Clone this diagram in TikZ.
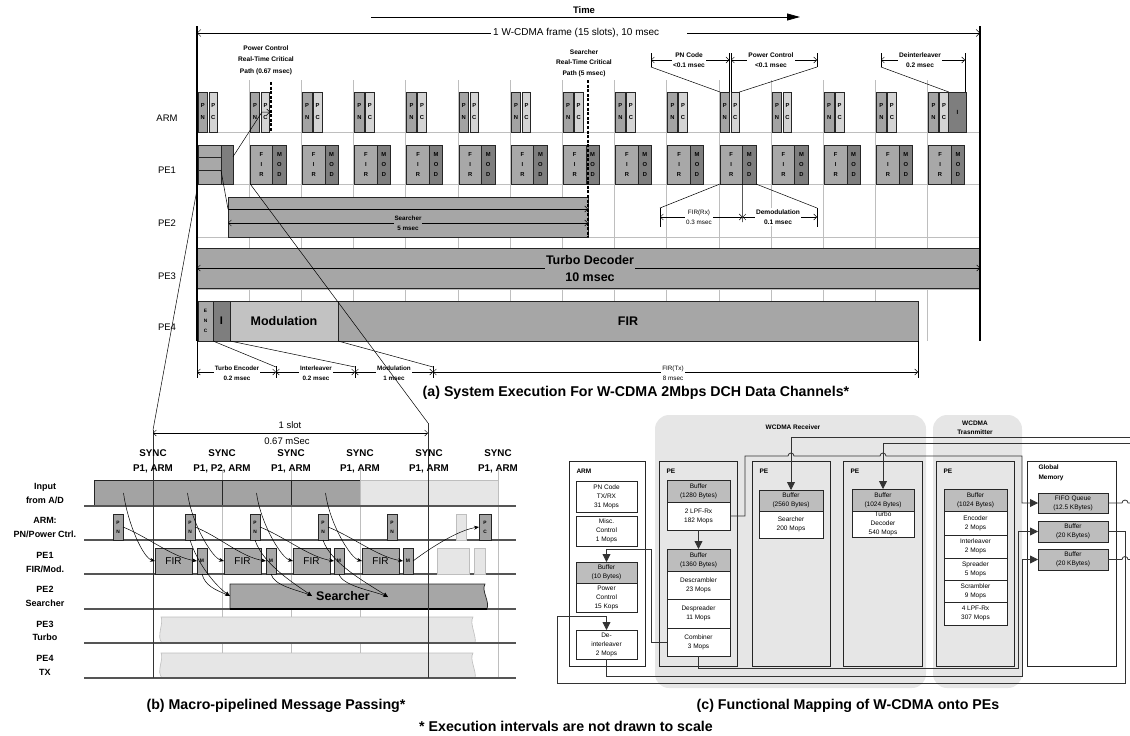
\documentclass[tikz,border=0pt]{standalone}
\usepackage{fontspec}
\setmainfont{Liberation Sans}
\usetikzlibrary{arrows.meta,calc}
\definecolor{gPN}{HTML}{A3A3A3}
\definecolor{gPC}{HTML}{D4D4D4}
\definecolor{gFIR}{HTML}{A8A8A8}
\definecolor{gMOD}{HTML}{7E7E7E}
\definecolor{gGrid}{HTML}{BEBEBE}
\definecolor{gBar}{HTML}{A6A6A6}
\definecolor{gModu}{HTML}{C2C2C2}
\definecolor{gLight}{HTML}{E6E6E6}
\definecolor{gReg}{HTML}{E6E6E6}
\definecolor{gBuf}{HTML}{BDBDBD}
\definecolor{gRow}{HTML}{555555}
\newcommand\fsz[2]{\fontsize{#1}{#2}\selectfont}
\begin{document}
\begin{tikzpicture}[x=1pt,y=-1pt,
  bx/.style={draw=black!85,line width=0.7pt,inner sep=0pt,outer sep=0pt,anchor=north west},
  lt/.style={font=\bfseries\fsz{5.8}{12},align=center},
  lf/.style={font=\bfseries\fsz{5.8}{10},align=center},
  grd/.style={draw=gGrid,line width=0.8pt},
  barb/.style={line width=0.5pt,{Straight Barb[length=3pt,width=6pt]}-{Straight Barb[length=3pt,width=6pt]}},
  barbR/.style={line width=0.5pt,-{Straight Barb[length=3pt,width=6pt]}},
  ann/.style={font=\bfseries\fsz{6.6}{10.5},align=center},
  dl/.style={fill=white,inner sep=1pt,align=center},
  tk/.style={line width=0.5pt},
  rl/.style={font=\bfseries\fsz{9}{13.5},align=center},
  sy/.style={font=\bfseries\fsz{9.8}{15},align=center},
  ba/.style={line width=0.5pt,-{Stealth[length=5pt,width=4pt]}},
  rowl/.style={draw=gRow,line width=1.1pt},
  cb/.style={bx,fill=white,font=\fsz{6.5}{9},align=center,line width=0.8pt},
  cbuf/.style={cb,fill=gBuf},
  cn/.style={draw=black!80,line width=0.8pt},
  tri/.style={-{Triangle[length=8pt,width=8pt]}},
  capt/.style={font=\bfseries\fsz{14.2}{16}}
]
\useasboundingbox (0,0) rectangle (1130,736);
%================ (a) =================
\node[font=\bfseries\fsz{9.5}{11}] (timeL) at (584,10) {Time};
\coordinate (t0) at (371,17); \coordinate (t1) at (800,17);
\draw[line width=0.8pt,-{Triangle[length=13pt,width=7pt]}] (t0) -- (t1);
% grid
\foreach \i in {1,...,14}{\draw[grd] ({197+52.2*\i},80) -- ({197+52.2*\i},341);}
\foreach \y in {132,184,237,289}{\draw[grd] (197,\y) -- (980,\y);}
% row labels
\foreach \nm/\y in {ARM/118,PE1/170,PE2/223,PE3/276,PE4/327}{\node[font=\fsz{9.5}{11}] (rl\nm) at (167,\y) {\nm};}
% ARM boxes
\foreach \i in {0,...,14}{
  \pgfmathsetmacro\s{197+52.2*\i}
  \node[bx,fill=gPN,minimum width=9.5pt,minimum height=40pt,lt] (pn\i) at (\s+1,92) {P\\N};
  \node[bx,fill=gPC,minimum width=8.5pt,minimum height=40pt,lt] (pc\i) at (\s+12,92) {P\\C};
}
\node[bx,fill=gMOD,minimum width=17.2pt,minimum height=40pt,font=\bfseries\fsz{6}{8}] (iA) at (948.8,92) {I};
% PE1 boxes
\foreach \i in {1,...,14}{
  \pgfmathsetmacro\s{197+52.2*\i}
  \node[bx,fill=gFIR,minimum width=22.5pt,minimum height=39pt,lf] (fir\i) at (\s+1,145) {F\\I\\R};
  \node[bx,fill=gMOD,minimum width=13.5pt,minimum height=39pt,lf] (mod\i) at (\s+23.5,145) {M\\O\\D};
}
\node[bx,fill=gFIR,minimum width=23pt,minimum height=12.5pt] (p0a) at (198,145) {};
\node[bx,fill=gFIR,minimum width=23pt,minimum height=13pt] (p0b) at (198,157.5) {};
\node[bx,fill=gFIR,minimum width=23pt,minimum height=13.5pt] (p0c) at (198,170.5) {};
\node[bx,fill=gMOD,minimum width=12pt,minimum height=39pt] (d0) at (221,145) {};
% PE2 searcher
\node[bx,fill=gBar,minimum width=360pt,minimum height=40pt] (srch) at (228,197) {};
\draw[barbR] (228,209) -- (588,209);
\draw[barb] (228,223) -- (588,223);
\node[fill=gBar,inner sep=1pt,font=\bfseries\fsz{6.3}{10},align=center] (srchL) at (408,223) {Searcher\\5 msec};
% PE3 turbo
\node[bx,fill=gBar,minimum width=783pt,minimum height=40pt] (turbo) at (197,248) {};
\draw[barb] (197,268) -- (980,268);
\node[fill=gBar,inner sep=1pt,font=\bfseries\fsz{12.5}{17},align=center] (turboL) at (590,268.5) {Turbo Decoder\\10 msec};
% PE4
\node[bx,fill=gFIR,minimum width=15pt,minimum height=40pt,font=\bfseries\fsz{4.8}{10},align=center] (enc) at (198,301) {E\\N\\C};
\node[bx,fill=gMOD,minimum width=17pt,minimum height=40pt,font=\bfseries\fsz{11}{12}] (iB) at (213,301) {I};
\node[bx,fill=gModu,minimum width=108pt,minimum height=40pt,font=\bfseries\fsz{12.5}{14}] (modu) at (230,301) {Modulation};
\node[bx,fill=gBar,minimum width=580pt,minimum height=40pt,font=\bfseries\fsz{12.5}{14}] (firT) at (338,301) {FIR};
% frame
\draw[line width=1.6pt] (197,26) -- (197,341);
\draw[line width=1.6pt] (980,26) -- (980,341);
\draw[tk] (197,341) -- (197,378);
\draw[line width=0.5pt,{Straight Barb[length=3.5pt,width=7pt]}-] (197,33) -- (491,33);
\draw[line width=0.5pt,-{Straight Barb[length=3.5pt,width=7pt]}] (687,33) -- (980,33);
\node[anchor=west,inner sep=1pt,font=\fsz{10}{12}] (frameL) at (492,33) {1 W-CDMA frame (15 slots), 10 msec};
% critical paths
\node[ann,font=\bfseries\fsz{6.6}{11.5}] (pcA) at (266,60) {Power Control\\Real-Time Critical\\Path (0.67 msec)};
\node[ann] (srA) at (584,63) {Searcher\\Real-Time Critical\\Path (5 msec)};
\draw[line width=1.4pt,dash pattern=on 3pt off 1.6pt] (271,82) -- (271,132);
\draw[line width=1.4pt,dash pattern=on 3pt off 1.6pt] (588,80) -- (588,237);
\draw[barbR] ($(d0.north east)!0.3!(d0.south east)$) -- (262,112) -- (270,112);
\draw[tk] (p0b.south east) -- (228,209);
% top dimensions
\draw[barb] (651,60) -- (729.3,60);
\draw[barb] (731,60) -- (817,60);
\draw[barb] (881,60) -- (965,60);
\draw[tk] (651,53) -- (651,67);
\draw[tk] (817,53) -- (817,67);
\draw[tk] (881,53) -- (881,67);
\draw[tk] (729.3,53) -- (729.3,92);
\draw[tk] (731,53) -- (731,92);
\draw[tk] (965,53) -- (965,92);
\draw[tk] (651,67) -- (pn10.north west);
\draw[tk] (817,67) -- (pc10.north east);
\draw[tk] (881,67) -- (iA.north west);
\node[dl,ann] (pnL) at (689,60) {PN Code\\<0.1 msec};
\node[dl,ann] (pcL) at (771,60) {Power Control\\<0.1 msec};
\node[dl,ann] (diL) at (920,60) {Deinterleaver\\0.2 msec};
% FIR(Rx) dims
\draw[barb] (660,217) -- (742.5,217);
\draw[barb] (742.5,217) -- (817,217);
\draw[tk] (660,208) -- (660,227);
\draw[tk] (817,208) -- (817,227);
\draw[tk] (fir10.south east) -- (742.5,222);
\draw[tk] (660,208) -- (fir10.south west);
\draw[tk] (817,208) -- (mod10.south east);
\node[dl,font=\fsz{6.3}{10.5}] (firRx) at (699,217) {FIR(Rx)\\0.3 msec};
\node[dl,ann] (demL) at (778,217) {Demodulation\\0.1 msec};
% bottom dims
\draw[barb] (197,372) -- (276,372);
\draw[barb] (276,372) -- (355,372);
\draw[barb] (355,372) -- (433,372);
\draw[barb] (433,372) -- (918,372);
\foreach \x in {276,355,433}{\draw[tk] (\x,366) -- (\x,378);}
\draw[tk] (enc.south east) -- (276,367);
\draw[tk] (iB.south east) -- (355,367);
\draw[tk] (modu.south east) -- (433,367);
\draw[tk] (firT.south east) -- (918,378);
\node[dl,ann,font=\bfseries\fsz{6.3}{10}] (teL) at (237,373) {Turbo Encoder\\0.2 msec};
\node[dl,ann,font=\bfseries\fsz{6.3}{10}] (ilL) at (316,373) {Interleaver\\0.2 msec};
\node[dl,ann,font=\bfseries\fsz{6.3}{10}] (moL) at (394,373) {Modulation\\1 msec};
\node[dl,font=\fsz{6.3}{10}] (ftL) at (673,373) {FIR(Tx)\\8 msec};
\node[capt] (capA) at (636,393) {(a) System Execution For W-CDMA 2Mbps DCH Data Channels*};
%================ (b) =================
\foreach \x in {222,291,360,498}{\draw[grd] (\x,470) -- (\x,678);}
\node[bx,fill=gPN,minimum width=59pt,minimum height=26pt] (inp0) at (94,480) {};
\node[bx,fill=gPN,minimum width=69pt,minimum height=26pt] (inp1) at (153,480) {};
\node[bx,fill=gPN,minimum width=69pt,minimum height=26pt] (inp2) at (222,480) {};
\node[bx,fill=gPN,minimum width=69pt,minimum height=26pt] (inp3) at (291,480) {};
\node[bx,fill=gLight,draw=gGrid,minimum width=138pt,minimum height=26pt] (inpL) at (360,480) {};
\foreach \y in {506,540,574,609,643,678}{\draw[rowl] (84,\y) -- (516,\y);}
\foreach \k/\x in {0/113,1/185,2/250,3/318,4/387}{
  \node[bx,fill=gPN,minimum width=10pt,minimum height=26pt,font=\bfseries\fsz{4.8}{9},align=center] (pnb\k) at (\x,514) {P\\N};}
\node[bx,fill=gLight,draw=gGrid,minimum width=10pt,minimum height=26pt] (pnbL) at (456,514) {};
\node[bx,fill=gPN,minimum width=12pt,minimum height=26pt,font=\bfseries\fsz{4.8}{9},align=center] (pcb) at (479,514) {P\\C};
\foreach \k/\x/\m in {0/155/197,1/224/266,2/293/334,3/362/403}{
  \node[bx,fill=gFIR,minimum width=37pt,minimum height=26pt,font=\fsz{10}{12}] (firb\k) at (\x,548) {FIR};
  \node[bx,fill=gFIR,minimum width=10pt,minimum height=26pt,font=\bfseries\fsz{5}{6}] (mb\k) at (\m,548) {M};}
\node[bx,fill=gLight,draw=gGrid,minimum width=32pt,minimum height=26pt] (firbL) at (437,548) {};
\node[bx,fill=gLight,draw=gGrid,minimum width=11pt,minimum height=26pt] (mbL) at (474,548) {};
\path[draw=black!85,fill=gBar,line width=0.7pt] (230,584) -- (485,584) .. controls (481,591) and (490,601) .. (487,609) -- (230,609) -- cycle;
\draw[line width=1.6pt] (230,609) -- (487,609);
\node[font=\bfseries\fsz{12.5}{14}] (srchB) at (343,596.5) {Searcher};
\path[draw=gGrid,fill=gLight,line width=0.6pt] (161,617) -- (473,617) .. controls (469,623) and (477,637) .. (475,643) -- (162,643) .. controls (156,637) and (164,623) .. (161,617) -- cycle;
\path[draw=gGrid,fill=gLight,line width=0.6pt] (161,653) -- (473,653) .. controls (469,659) and (477,672) .. (475,678) -- (162,678) .. controls (156,672) and (164,659) .. (161,653) -- cycle;
\draw[rowl] (84,643) -- (516,643);
\draw[rowl] (84,678) -- (516,678);
\draw[line width=1pt,draw=black!80] (153,430) -- (153,678);
\draw[line width=1pt,draw=black!80] (428,423) -- (428,678);
\coordinate (bs0) at (153,430); \coordinate (bs1) at (428,423);
\draw[barb] (153,433) -- (428,433);
\node[font=\fsz{9.5}{11}] (slotL) at (290,425) {1 slot};
\node[font=\fsz{9.5}{11}] (slotT) at (287,441) {0.67 mSec};
\foreach \x/\t in {153/{P1, ARM},222/{P1, P2, ARM},291/{P1, ARM},360/{P1, ARM},429/{P1, ARM},498/{P1, ARM}}{
  \node[sy] (sync\x) at (\x,461.5) {SYNC\\\t};}
\node[rl] (lInp) at (45,493.5) {Input\\from A/D};
\node[rl] (lArm) at (45,527.5) {ARM:\\PN/Power Ctrl.};
\node[rl] (lPe1) at (45,562.5) {PE1\\FIR/Mod.};
\node[rl] (lPe2) at (45,596.5) {PE2\\Searcher};
\node[rl] (lPe3) at (45,631) {PE3\\Turbo};
\node[rl] (lPe4) at (45,665.5) {PE4\\TX};
% arrows
\foreach \k in {0,1,2,3}{
  \draw[ba] (inp\k.center) .. controls +(4,30) and +(-12,-3) .. (firb\k.west);
  \draw[ba] (pnb\k.east) .. controls +(25,10) and +(-25,-4) .. (mb\k.west);}
\coordinate (T0) at (230,596); \coordinate (T1) at (312,596); \coordinate (T2) at (388,597);
\draw[ba] (mb0.south) .. controls +(3,12) and +(-14,-6) .. (T0);
\draw[ba] (pnb1.south) .. controls +(8,25) and +(-14,-10) .. (T0);
\draw[ba] (mb1.south) .. controls +(3,12) and +(-14,-6) .. (T1);
\draw[ba] (pnb2.south) .. controls +(8,25) and +(-14,-10) .. (T1);
\draw[ba] (mb2.south) .. controls +(3,12) and +(-14,-6) .. (T2);
\draw[ba] (pnb3.south) .. controls +(8,25) and +(-14,-10) .. (T2);
\draw[ba] (mb3.east) .. controls +(20,-15) and +(-20,3) .. (pcb.west);
\node[capt] (capB) at (276,706) {(b) Macro-pipelined Message Passing*};
%================ (c) =================
\fill[gReg,rounded corners=14pt] (655,415) rectangle (926,688);
\fill[gReg,rounded corners=14pt] (933,415) rectangle (1022,688);
\node[font=\bfseries\fsz{6.5}{9}] (recvL) at (793,427) {WCDMA Receiver};
\node[font=\bfseries\fsz{6.5}{9},align=center] (trL) at (975,428) {WCDMA\\Trasnmitter};
% containers
\node[bx,fill=white,line width=0.9pt,minimum width=76pt,minimum height=205pt] (armC) at (569,461) {};
\node[bx,line width=0.9pt,minimum width=78pt,minimum height=205pt] (peC1) at (659,461) {};
\node[bx,line width=0.9pt,minimum width=78pt,minimum height=205pt] (peC2) at (752,461) {};
\node[bx,line width=0.9pt,minimum width=79pt,minimum height=205pt] (peC3) at (843,461) {};
\node[bx,line width=0.9pt,minimum width=78pt,minimum height=205pt] (peC4) at (936,461) {};
\node[bx,fill=white,line width=0.9pt,minimum width=89pt,minimum height=205pt] (glob) at (1027,461) {};
\node[anchor=west,font=\bfseries\fsz{6.5}{9}] (armT) at (573,471) {ARM};
\foreach \k/\x in {1/663,2/756,3/847,4/940}{\node[anchor=west,font=\bfseries\fsz{6.5}{9}] (peT\k) at (\x,471) {PE};}
\node[anchor=north west,align=left,font=\bfseries\fsz{6.5}{10}] (globT) at (1035,461) {Global\\Memory};
% ARM column
\node[cb,minimum width=61pt,minimum height=31pt] (pnc) at (576,481) {PN Code\\TX/RX\\31 Mops};
\node[cb,minimum width=61pt,minimum height=30pt] (misc) at (576,516) {Misc.\\Control\\1 Mops};
\node[cbuf,minimum width=61pt,minimum height=21pt] (bufA) at (576,562) {Buffer\\(10 Bytes)};
\node[cb,minimum width=61pt,minimum height=29pt] (pwr) at (576,583) {Power\\Control\\15 Kops};
\node[cb,minimum width=61pt,minimum height=29pt] (deint) at (576,630) {De-\\interleaver\\2 Mops};
% PE 1
\node[cbuf,minimum width=63pt,minimum height=22pt] (bufB) at (667,480) {Buffer\\(1280 Bytes)};
\node[cb,minimum width=63pt,minimum height=28pt] (lpf) at (667,502) {2 LPF-Rx\\182 Mops};
\node[cbuf,minimum width=63pt,minimum height=22pt] (bufC) at (667,549) {Buffer\\(1360 Bytes)};
\node[cb,minimum width=63pt,minimum height=28pt] (desc) at (667,571) {Descrambler\\23 Mops};
\node[cb,minimum width=63pt,minimum height=29pt] (desp) at (667,599) {Despreader\\11 Mops};
\node[cb,minimum width=63pt,minimum height=28pt] (comb) at (667,628) {Combiner\\3 Mops};
% PE 2
\node[cbuf,minimum width=64pt,minimum height=21pt] (bufD) at (759,490) {Buffer\\(2560 Bytes)};
\node[cb,minimum width=64pt,minimum height=27pt] (srchC) at (759,511) {Searcher\\200 Mops};
% PE 3
\node[cbuf,minimum width=62pt,minimum height=22pt] (bufE) at (852,489) {Buffer\\(1024 Bytes)};
\node[cb,minimum width=62pt,minimum height=26pt] (turboC) at (852,511) {Turbo\\Decoder\\540 Mops};
% PE 4
\node[cbuf,minimum width=63pt,minimum height=22pt] (bufF) at (944,489) {Buffer\\(1024 Bytes)};
\node[cb,minimum width=63pt,minimum height=24pt] (encC) at (944,511) {Encoder\\2 Mops};
\node[cb,minimum width=63pt,minimum height=23pt] (intC) at (944,535) {Interleaver\\2 Mops};
\node[cb,minimum width=63pt,minimum height=22pt] (sprC) at (944,558) {Spreader\\5 Mops};
\node[cb,minimum width=63pt,minimum height=22pt] (scrC) at (944,580) {Scrambler\\9 Mops};
\node[cb,minimum width=63pt,minimum height=23pt] (lpfC) at (944,602) {4 LPF-Rx\\307 Mops};
% global memory
\node[cbuf,minimum width=70pt,minimum height=20pt] (fifo) at (1038,493) {FIFO Queue\\(12.5 KBytes)};
\node[cbuf,minimum width=70pt,minimum height=21pt] (gb1) at (1038,521) {Buffer\\(20 KBytes)};
\node[cbuf,minimum width=70pt,minimum height=21pt] (gb2) at (1038,549) {Buffer\\(20 KBytes)};
% connectors
\coordinate (e1) at (1130,437); \coordinate (e2) at (1130,443);
\coordinate (e3) at (1130,503); \coordinate (e4) at (1130,559.5);
\draw[cn,tri] (e1) -| (bufD.north);
\draw[cn,tri] (e2) -| (bufE.north);
\draw[cn,tri] (lpf.east) -- (745,516) -- (745,456) -- (788,456) arc[start angle=180,end angle=0,radius=3pt] -- (880,456) arc[start angle=180,end angle=0,radius=3pt] -- (1022,456) |- (fifo.west);
\draw[cn,tri] (lpf.south) -- (bufC.north);
\draw[cn,tri] (comb.west) -- (651,642) -- (651,549) -| (bufA.north);
\draw[cn,tri] (gb1.east) -- (1125,531.5) -- (1125,683) -- (557,683) -- (557,616) -| (deint.north);
\draw[cn,tri] (comb.south) |- (1018,668) |- (gb1.west);
\draw[cn,tri] (deint.south) |- (1022,676) |- (gb2.west);
\draw[cn] (fifo.east) -- (1122,503) arc[start angle=180,end angle=0,radius=3pt] -- (e3);
\draw[cn] (gb2.east) -- (1122,559.5) arc[start angle=180,end angle=0,radius=3pt] -- (e4);
\node[capt] (capC) at (848,706) {(c) Functional Mapping of W-CDMA onto PEs};
\node[capt] (note) at (566,726) {* Execution intervals are not drawn to scale};
%================ zoom lines =================
\draw[line width=0.5pt] (p0c.south west) -- (bs0);
\draw[line width=0.5pt] (fir1.south west) -- (bs1);
\end{tikzpicture}
\end{document}
